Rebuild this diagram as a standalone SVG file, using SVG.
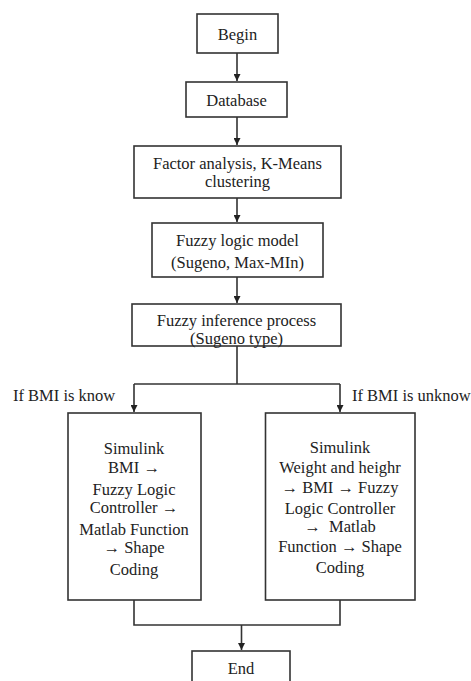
<svg xmlns="http://www.w3.org/2000/svg" width="471" height="681" viewBox="0 0 471 681">
<style>
.box{fill:#fff;stroke:#333;stroke-width:1.6}
.t{font-family:"Liberation Serif","Times New Roman",serif;font-size:16.5px;fill:#222;text-anchor:middle}
.l{font-family:"Liberation Serif","Times New Roman",serif;font-size:16.5px;fill:#222}
.c{fill:none;stroke:#333;stroke-width:1.6}
</style>
<defs>
<marker id="ah" viewBox="0 0 10 10" refX="10" refY="5" markerWidth="7" markerHeight="7" markerUnits="userSpaceOnUse" orient="auto">
<path d="M0,0 L10,5 L0,10 z" fill="#222"/>
</marker>
</defs>
<rect width="471" height="681" fill="#fff"/>
<g id="connectors">
<path class="c" d="M237,53 V81" marker-end="url(#ah)"/>
<path class="c" d="M237,117 V145" marker-end="url(#ah)"/>
<path class="c" d="M237,198 V222" marker-end="url(#ah)"/>
<path class="c" d="M237,277 V303" marker-end="url(#ah)"/>
<path class="c" d="M237,346 V384"/>
<path class="c" d="M134,384 H340"/>
<path class="c" d="M134,384 V412" marker-end="url(#ah)"/>
<path class="c" d="M340,384 V412" marker-end="url(#ah)"/>
<path class="c" d="M134,600 V625 H340 V600"/>
<path class="c" d="M241.5,625 V650" marker-end="url(#ah)"/>
<text class="l" x="13" y="401">If BMI is know</text>
<text class="l" x="352" y="401">If BMI is unknow</text>
</g>
<g id="begin">
<rect class="box" x="197" y="14" width="81" height="39"/>
<text class="t" x="237.5" y="39.5">Begin</text>
</g>
<g id="database">
<rect class="box" x="186" y="82" width="101" height="35"/>
<text class="t" x="236.5" y="105.5">Database</text>
</g>
<g id="factor">
<rect class="box" x="134" y="146" width="207" height="52"/>
<text class="t" x="237.5" y="168.5">Factor analysis, K-Means</text>
<text class="t" x="237.5" y="187">clustering</text>
</g>
<g id="fuzzy-model">
<rect class="box" x="152" y="223" width="171" height="54"/>
<text class="t" x="237.5" y="245.5">Fuzzy logic model</text>
<text class="t" x="237.5" y="268">(Sugeno, Max-MIn)</text>
</g>
<g id="fuzzy-inference">
<rect class="box" x="132" y="304" width="209" height="42"/>
<text class="t" x="236.5" y="325.5">Fuzzy inference process</text>
<text class="t" x="236.5" y="344">(Sugeno type)</text>
</g>
<g id="left-sim">
<rect class="box" x="68" y="413" width="133" height="187"/>
<text class="t" x="134" y="454">Simulink</text>
<text class="t" x="134" y="472.5">BMI →</text>
<text class="t" x="134" y="494.5">Fuzzy Logic</text>
<text class="t" x="134" y="512.5">Controller →</text>
<text class="t" x="134" y="534.5">Matlab Function</text>
<text class="t" x="134" y="552.5">→ Shape</text>
<text class="t" x="134" y="574.5">Coding</text>
</g>
<g id="right-sim">
<rect class="box" x="265.5" y="413" width="149.5" height="187"/>
<text class="t" x="340" y="453">Simulink</text>
<text class="t" x="340" y="472.5">Weight and heighr</text>
<text class="t" x="340" y="492.5">→ BMI → Fuzzy</text>
<text class="t" x="340" y="513.5">Logic Controller</text>
<text class="t" x="340" y="531.5" style="white-space:pre">→  Matlab</text>
<text class="t" x="340" y="551.5">Function → Shape</text>
<text class="t" x="340" y="572.5">Coding</text>
</g>
<g id="end">
<rect class="box" x="192" y="651" width="98" height="40"/>
<text class="t" x="241" y="673.5">End</text>
</g>
</svg>
